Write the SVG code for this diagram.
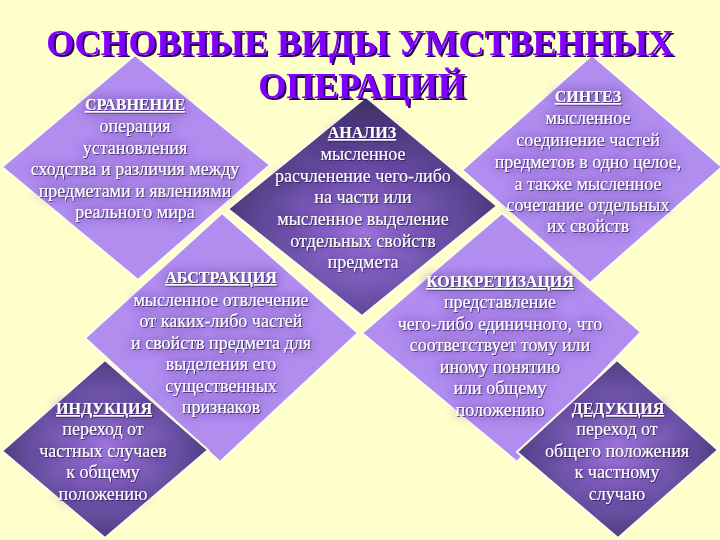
<svg xmlns="http://www.w3.org/2000/svg" width="720" height="540" viewBox="0 0 720 540">
<style>
.light{fill:#B18DF0;stroke:#FFFDE6;stroke-width:2;stroke-linejoin:miter}
.dark{fill:url(#gDark);stroke:#FFFDE6;stroke-width:2}
.darkA{fill:url(#gAnal);stroke:#FFFDE6;stroke-width:2}
.txt{font-family:"Liberation Serif","DejaVu Serif",serif;font-size:18px;fill:#FFFFFF;text-anchor:middle}
.hdr{font-family:"Liberation Serif","DejaVu Serif",serif;font-size:16px;font-weight:bold;fill:#FFFFFF;text-anchor:middle;text-decoration:underline}
.title{font-family:"Liberation Serif","DejaVu Serif",serif;font-size:36px;font-weight:bold;text-anchor:middle;fill:#8000FF}
</style>
<defs>
<radialGradient id="gDark" cx="50%" cy="50%" r="55%">
<stop offset="0" stop-color="#A880E6"/>
<stop offset="0.5" stop-color="#7558B0"/>
<stop offset="1" stop-color="#47387A"/>
</radialGradient>
<radialGradient id="gAnal" cx="50%" cy="62%" r="60%">
<stop offset="0" stop-color="#A47CE6"/>
<stop offset="0.5" stop-color="#6C50A8"/>
<stop offset="1" stop-color="#3E3068"/>
</radialGradient>
<filter id="halo" x="-20%" y="-30%" width="140%" height="160%">
<feGaussianBlur in="SourceAlpha" stdDeviation="6" result="b"/>
<feFlood flood-color="#3A1F6E" flood-opacity="0.85"/>
<feComposite in2="b" operator="in" result="s"/>
<feOffset in="SourceAlpha" dx="1" dy="1" result="o"/>
<feFlood flood-color="#2A1A50" flood-opacity="0.7"/>
<feComposite in2="o" operator="in" result="sh"/>
<feMerge><feMergeNode in="s"/><feMergeNode in="sh"/><feMergeNode in="SourceGraphic"/></feMerge>
</filter>
<filter id="tshadow" filterUnits="userSpaceOnUse" x="0" y="0" width="720" height="540">
<feOffset in="SourceAlpha" dx="2" dy="2" result="o"/>
<feFlood flood-color="#2A0058"/>
<feComposite in2="o" operator="in" result="sh"/>
<feMerge><feMergeNode in="sh"/><feMergeNode in="SourceGraphic"/></feMerge>
</filter>
</defs>
<rect width="720" height="540" fill="#FFFFCC"/>
<g id="connectors"/>
<g id="sravnenie">
<polygon class="light" points="135,55 270,165 138,280 2,167"/>
<g filter="url(#halo)">
<text class="hdr" x="135" y="110">СРАВНЕНИЕ</text>
<text class="txt" x="135" y="132">операция</text>
<text class="txt" x="135" y="153.5">установления</text>
<text class="txt" x="135" y="175">сходства и различия между</text>
<text class="txt" x="135" y="196.5">предметами и явлениями</text>
<text class="txt" x="135" y="218">реального мира</text>
</g>
</g>
<g id="sintez">
<polygon class="light" points="592,55 722,167 590,283 462,170"/>
<g filter="url(#halo)">
<text class="hdr" x="588" y="102">СИНТЕЗ</text>
<text class="txt" x="588" y="124">мысленное</text>
<text class="txt" x="588" y="146">соединение частей</text>
<text class="txt" x="588" y="168">предметов в одно целое,</text>
<text class="txt" x="588" y="190">а также мысленное</text>
<text class="txt" x="588" y="211">сочетание отдельных</text>
<text class="txt" x="588" y="232">их свойств</text>
</g>
</g>
<g id="abstrakciya">
<polygon class="light" points="222,213 358,333 220,462 85,338"/>
<g filter="url(#halo)">
<text class="hdr" x="221" y="283">АБСТРАКЦИЯ</text>
<text class="txt" x="221" y="306">мысленное отвлечение</text>
<text class="txt" x="221" y="327">от каких-либо частей</text>
<text class="txt" x="221" y="349">и свойств предмета для</text>
<text class="txt" x="221" y="370">выделения его</text>
<text class="txt" x="221" y="392">существенных</text>
<text class="txt" x="221" y="413">признаков</text>
</g>
</g>
<g id="konkretizaciya">
<polygon class="light" points="502,213 641,332 517,462 362,333"/>
<g filter="url(#halo)">
<text class="hdr" x="500" y="287">КОНКРЕТИЗАЦИЯ</text>
<text class="txt" x="500" y="308">представление</text>
<text class="txt" x="500" y="329.5">чего-либо единичного, что</text>
<text class="txt" x="500" y="351">соответствует тому или</text>
<text class="txt" x="500" y="372.5">иному понятию</text>
<text class="txt" x="500" y="394">или общему</text>
<text class="txt" x="500" y="415.5">положению</text>
</g>
</g>
<g id="analiz">
<polygon class="darkA" points="366,97 497,206 362,316 228,209"/>
<g filter="url(#halo)">
<text class="hdr" x="362" y="138">АНАЛИЗ</text>
<text class="txt" x="363" y="160">мысленное</text>
<text class="txt" x="363" y="182">расчленение чего-либо</text>
<text class="txt" x="363" y="203">на части или</text>
<text class="txt" x="363" y="225">мысленное выделение</text>
<text class="txt" x="363" y="247">отдельных свойств</text>
<text class="txt" x="363" y="268">предмета</text>
</g>
</g>
<g id="indukciya">
<polygon class="dark" points="105,360 208,450 105,538 2,451"/>
<g filter="url(#halo)">
<text class="hdr" x="104" y="414">ИНДУКЦИЯ</text>
<text class="txt" x="103" y="435">переход от</text>
<text class="txt" x="103" y="457">частных случаев</text>
<text class="txt" x="103" y="478">к общему</text>
<text class="txt" x="103" y="500">положению</text>
</g>
</g>
<g id="dedukciya">
<polygon class="dark" points="617,360 718,450 618,538 517,452"/>
<g filter="url(#halo)">
<text class="hdr" x="618" y="414">ДЕДУКЦИЯ</text>
<text class="txt" x="617" y="435">переход от</text>
<text class="txt" x="617" y="457">общего положения</text>
<text class="txt" x="617" y="478">к частному</text>
<text class="txt" x="617" y="500">случаю</text>
</g>
</g>
<g id="title" filter="url(#tshadow)">
<text class="title" x="360" y="55">ОСНОВНЫЕ ВИДЫ УМСТВЕННЫХ</text>
<text class="title" x="362" y="98">ОПЕРАЦИЙ</text>
</g>
</svg>
